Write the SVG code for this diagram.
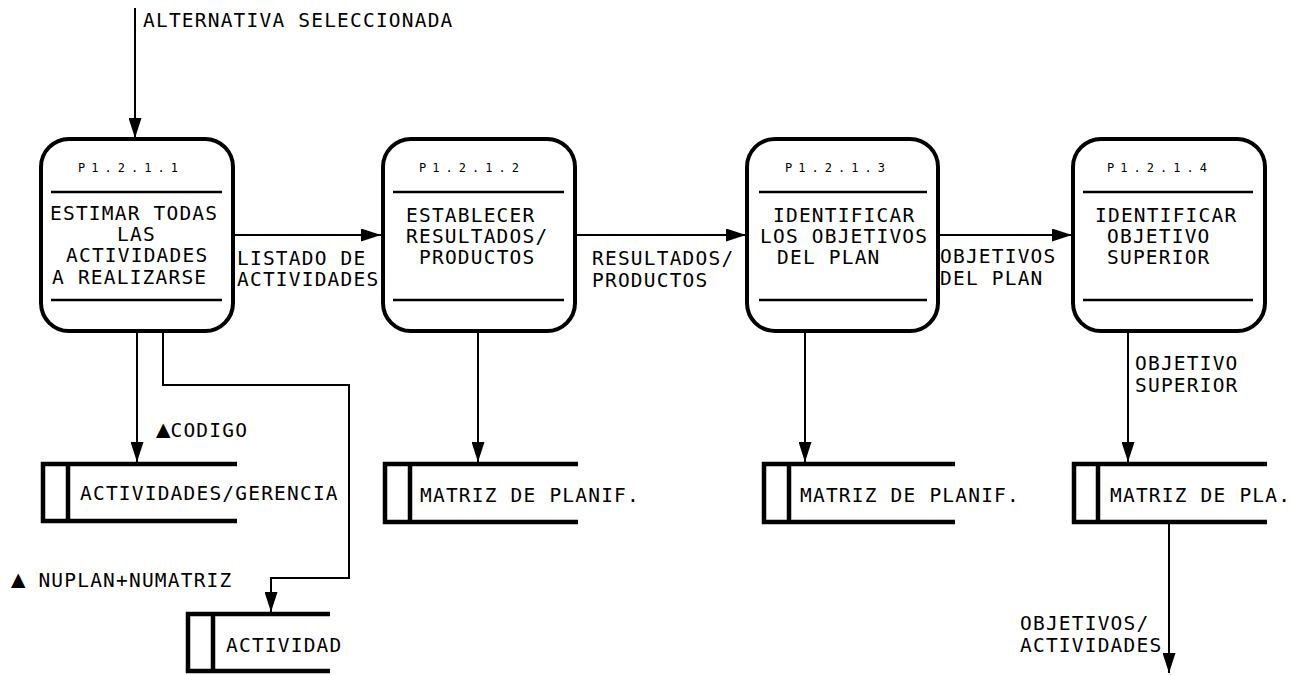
<svg xmlns="http://www.w3.org/2000/svg" width="1297" height="675" viewBox="0 0 1297 675">
<defs>
<marker id="arr" viewBox="0 0 20 13" refX="20" refY="6.5" markerWidth="20" markerHeight="13" markerUnits="userSpaceOnUse" orient="auto">
<path d="M0,0 L20,6.5 L0,13 z" fill="#000"/>
</marker>
<style>
.box{fill:#fff;stroke:#000;stroke-width:4}
.div{stroke:#000;stroke-width:2.5}
.store{fill:none;stroke:#000;stroke-width:4.5}
.flow{fill:none;stroke:#000;stroke-width:2;marker-end:url(#arr)}
text{font-family:"DejaVu Sans Mono","Liberation Mono",monospace;fill:#000}
.t{font-size:19.5px;letter-spacing:1.2px}
.pid{font-size:12px}
.tri{font-size:24px;letter-spacing:0}
</style>
</defs>
<rect width="1297" height="675" fill="#fff"/>

<g id="connectors">
<line class="flow" x1="135" y1="8" x2="135" y2="138"/>
<line class="flow" x1="233" y1="235" x2="381" y2="235"/>
<line class="flow" x1="575" y1="235" x2="746" y2="235"/>
<line class="flow" x1="938" y1="235" x2="1072" y2="235"/>
<line class="flow" x1="137" y1="331" x2="137" y2="462"/>
<polyline class="flow" points="163,331 163,385 349,385 349,578 271,578 271,612"/>
<line class="flow" x1="478" y1="331" x2="478" y2="462"/>
<line class="flow" x1="805" y1="332" x2="805" y2="462"/>
<line class="flow" x1="1128" y1="331" x2="1128" y2="462"/>
<line class="flow" x1="1169" y1="523" x2="1169" y2="673"/>
<text class="t" x="143" y="27">ALTERNATIVA SELECCIONADA</text>
<text class="t" x="237" y="265">LISTADO DE</text>
<text class="t" x="237" y="286">ACTIVIDADES</text>
<text class="t" x="592" y="265">RESULTADOS/</text>
<text class="t" x="592" y="287">PRODUCTOS</text>
<text class="t" x="940" y="263">OBJETIVOS</text>
<text class="t" x="940" y="285">DEL PLAN</text>
<text class="t" x="1135" y="370">OBJETIVO</text>
<text class="t" x="1135" y="392">SUPERIOR</text>
<text class="t" x="1020" y="630">OBJETIVOS/</text>
<text class="t" x="1020" y="652">ACTIVIDADES</text>
<text class="t" x="156" y="437"><tspan class="tri">▲</tspan>CODIGO</text>
<text class="t" x="11" y="587"><tspan class="tri">▲</tspan> NUPLAN+NUMATRIZ</text>
</g>

<g id="p1">
<rect class="box" x="41" y="139" width="192" height="192" rx="28"/>
<line class="div" x1="51" y1="192" x2="222" y2="192"/>
<line class="div" x1="51" y1="300" x2="222" y2="300"/>
<text class="pid" x="78" y="172" textLength="100" lengthAdjust="spacing">P1.2.1.1</text>
<text class="t" x="50" y="220">ESTIMAR TODAS</text>
<text class="t" x="117" y="241">LAS</text>
<text class="t" x="66" y="262">ACTIVIDADES</text>
<text class="t" x="52" y="284">A REALIZARSE</text>
</g>

<g id="p2">
<rect class="box" x="383" y="139" width="192" height="192" rx="28"/>
<line class="div" x1="393" y1="192" x2="564" y2="192"/>
<line class="div" x1="393" y1="300" x2="564" y2="300"/>
<text class="pid" x="419" y="172" textLength="100" lengthAdjust="spacing">P1.2.1.2</text>
<text class="t" x="406" y="222">ESTABLECER</text>
<text class="t" x="406" y="243">RESULTADOS/</text>
<text class="t" x="419" y="264">PRODUCTOS</text>
</g>

<g id="p3">
<rect class="box" x="747" y="139" width="191" height="192" rx="28"/>
<line class="div" x1="759" y1="192" x2="927" y2="192"/>
<line class="div" x1="759" y1="300" x2="927" y2="300"/>
<text class="pid" x="785" y="172" textLength="100" lengthAdjust="spacing">P1.2.1.3</text>
<text class="t" x="773" y="222">IDENTIFICAR</text>
<text class="t" x="760" y="243">LOS OBJETIVOS</text>
<text class="t" x="777" y="264">DEL PLAN</text>
</g>

<g id="p4">
<rect class="box" x="1073" y="139" width="192" height="192" rx="28"/>
<line class="div" x1="1083" y1="192" x2="1253" y2="192"/>
<line class="div" x1="1083" y1="300" x2="1253" y2="300"/>
<text class="pid" x="1107" y="172" textLength="100" lengthAdjust="spacing">P1.2.1.4</text>
<text class="t" x="1095" y="222">IDENTIFICAR</text>
<text class="t" x="1107" y="243">OBJETIVO</text>
<text class="t" x="1107" y="264">SUPERIOR</text>
</g>

<g id="d1">
<path class="store" d="M237,464 H43 V521 H237 M68,464 V521"/>
<text class="t" x="80" y="500">ACTIVIDADES/GERENCIA</text>
</g>

<g id="d2">
<path class="store" d="M330,614 H188 V671 H330 M213,614 V671"/>
<text class="t" x="226" y="652">ACTIVIDAD</text>
</g>

<g id="d3">
<path class="store" d="M578,464 H385 V522 H578 M410,464 V522"/>
<text class="t" x="420" y="502">MATRIZ DE PLANIF.</text>
</g>

<g id="d4">
<path class="store" d="M955,464 H764 V522 H955 M789,464 V522"/>
<text class="t" x="800" y="502">MATRIZ DE PLANIF.</text>
</g>

<g id="d5">
<path class="store" d="M1267,464 H1074 V522 H1267 M1098,464 V522"/>
<text class="t" x="1110" y="502">MATRIZ DE PLA.</text>
</g>
</svg>
